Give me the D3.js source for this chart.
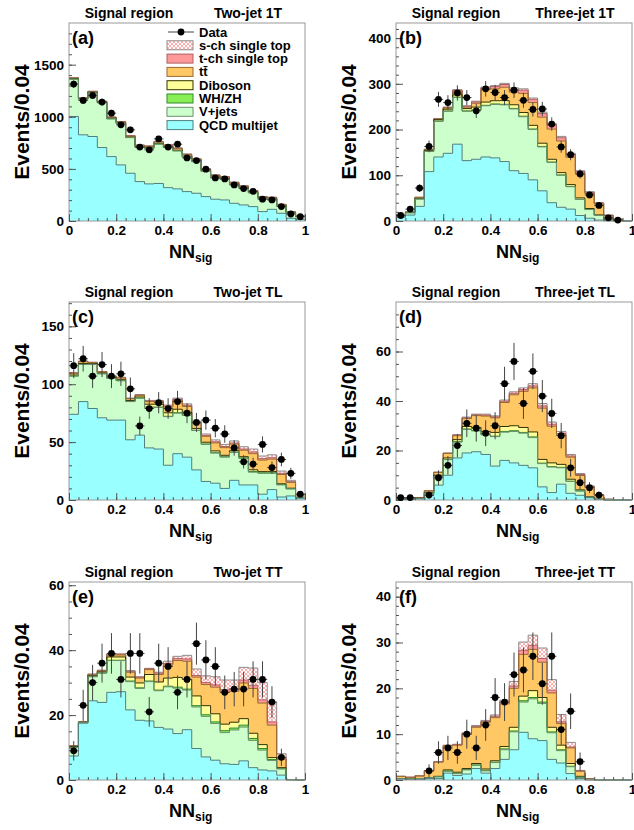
<!DOCTYPE html>
<html>
<head>
<meta charset="utf-8">
<script src="https://cdn.jsdelivr.net/npm/d3@7"></script>
<style>
  body { margin: 0; background: #fff; }
  svg text { font-family: "Liberation Sans", Arial, Helvetica, sans-serif; font-weight: bold; }
</style>
</head>
<body>
<svg id="chart" width="634" height="830"></svg>
<script>
// bin lower edges (bin width 0.04)
const binLow = [0,0.04,0.08,0.12,0.16,0.2,0.24,0.28,0.32,0.36,0.4,0.44,0.48,0.52,0.56,0.6,0.64,0.68,0.72,0.76,0.8,0.84,0.88,0.92,0.96]
const binW = 0.04

const xTicks = [0, 0.2, 0.4, 0.6, 0.8, 1]
const xTickLabels = ['0', '0.2', '0.4', '0.6', '0.8', '1']

// (a) Two-jet 1T
const qcd_a   = [1003,827,811,705,618,538,458,378,356,360,320,308,282,266,234,209,202,170,154,138,90,112,74,26,16]
const vjets_a = [358,341,419,429,362,397,342,327,341,378,385,365,333,303,241,208,199,180,161,132,126,98,70,52,26]
const whzh_a  = [1,1,1,1,1,1,1,1,1,1,1,1,1,1,1,1,1,1,1,1,1,1,1,1,1]
const dib_a   = [4,4,4,4,4,4,4,4,4,4,4,4,4,4,3,3,3,3,3,3,2,2,2,1,1]
const tt_a    = [5,5,6,7,8,10,10,12,12,14,14,15,15,15,14,14,14,12,12,12,10,10,8,6,3]
const tch_a   = [3,3,3,3,4,4,4,5,5,5,5,6,6,6,6,6,6,5,5,5,4,4,4,3,2]
const sch_a   = [1,1,1,1,1,1,1,2,2,2,2,2,2,2,2,2,2,2,2,2,1,1,1,1,1]
const data_a  = [1314,1157,1205,1141,1035,923,875,709,683,788,709,737,605,580,497,413,404,346,311,285,209,202,138,67,41]
const yTicks_a = [0, 500, 1000, 1500]

// (b) Three-jet 1T
const qcd_b   = [8,13,32,108,140,148,168,132,135,140,138,130,110,104,90,66,40,30,26,12,6,2,0.5,0,0]
const vjets_b = [3,5,16,44,78,92,102,108,107,112,117,124,135,124,110,96,88,70,49,35,19,10,2.5,0.8,0.2]
const whzh_b  = [0.1,0.1,0.2,0.4,0.5,0.6,0.8,0.8,1,1,1,1.2,1.2,1.2,1.2,1.1,1,0.8,0.6,0.5,0.3,0.2,0.1,0,0]
const dib_b   = [0.5,0.5,1,2,3,4,5,5,6,7,7,8,8,8,8,7,6,5,4,3,2,1,0.5,0.2,0]
const tt_b    = [1.1,1.1,2.3,1.8,1.3,2.7,8.2,3.2,8.5,27,26,29.3,27.8,41.8,49.8,56.9,66,69.2,59.9,52.5,32.5,24,8.3,2.6,0.7]
const tch_b   = [0.2,0.2,0.3,0.5,0.8,1.2,2,2,3,4,5,6,6,7,7,8,8,7,6,5,3,2,0.8,0.3,0.1]
const sch_b   = [0.1,0.1,0.2,0.3,0.4,0.5,1,1,1.5,2,2,2.5,3,3,3,3,3,3,2.5,2,1.2,0.8,0.3,0.1,0]
const data_b  = [12,26,72,163,266,259,280,270,241,289,281,270,286,264,244,245,212,162,145,103,57,34,7,2,0]
const yTicks_b = [0, 100, 200, 300, 400]

// (c) Two-jet TL
const qcd_c   = [74,85,79,71,69,69,52,56,45,44,30,40,37,26,16,14.5,10,17,13,13,5,9,2.6,3.5,1.5]
const vjets_c = [33,32,38,38,36,34,33,32,35,36,42,35,36,34,32,26,27,24,23,11,18,14,10.4,6,0.5]
const whzh_c  = [0.1,0.1,0.1,0.1,0.1,0.1,0.1,0.1,0.2,0.2,0.3,0.4,0.3,0.3,0.4,0.4,0.4,0.4,0.4,0.6,0.5,0.5,0.4,0.3,0.1]
const dib_c   = [0.8,0.8,0.6,0.6,0.6,0.8,0.8,0.8,2.5,2.5,3,3,2.5,1.5,1.5,1.5,1.2,1.2,1,1.5,1,1,0.6,0.4,0.2]
const tt_c    = [1.5,1.5,0.9,0.9,0.9,1.5,1.5,1.5,2.3,2.3,4.9,7.4,5,4.4,5.1,6.9,6.6,5.6,5.6,13.9,10,10.8,8,5,2.2]
const tch_c   = [0.3,0.3,0.2,0.2,0.2,0.3,0.3,0.3,0.5,0.5,0.8,1,1,0.8,0.8,1,1,1,1,1.5,1.2,1.2,1,0.6,0.2]
const sch_c   = [0.3,0.3,0.2,0.2,0.2,0.3,0.3,0.3,0.5,0.5,1,1.2,1.2,1,1.2,1.6,1.8,1.8,2,2.5,2.3,2.5,2,1.2,0.3]
const data_c  = [116,122,107,117,107,109,96,64,79,84,79,85,75,67,69,62,57,45,33,31,48,28,35,23,5]
const yTicks_c = [0, 50, 100, 150]

// (d) Three-jet TL
const qcd_d   = [0.3,0.3,0.4,1.8,6,10,17,19,19.5,18.4,13.7,16,15,14,13,5.3,3,6.4,2.7,1.9,0.9,0.3,0,0,0]
const vjets_d = [0.05,0.05,0.2,0.95,3.5,6.3,6.4,9.5,8.4,7.9,11.9,11.4,12.7,13,12.2,9.4,10.3,6.6,4.8,1.7,0.2,0,0,0,0]
const whzh_d  = [0,0,0,0.05,0.1,0.1,0.2,0.2,0.2,0.2,0.2,0.3,0.3,0.3,0.3,0.2,0.2,0.2,0.1,0.1,0,0,0,0,0]
const dib_d   = [0,0,0.1,0.2,0.4,0.6,0.8,1,1.2,1.2,1.5,2,2,2,2,1.5,1.5,1.2,0.8,0.4,0.2,0,0,0,0]
const tt_d    = [0.15,0.05,0.3,0.7,1.1,1.8,1.6,3.2,4.8,6.2,5.9,9.7,12.5,14.6,17.8,20.7,14.8,11.8,8.9,5.8,4,1.6,0.3,0,0]
const tch_d   = [0,0,0,0,0.1,0.1,0.2,0.3,0.3,0.4,0.4,0.5,0.6,0.7,0.8,0.9,0.8,0.7,0.5,0.4,0.2,0.1,0,0,0]
const sch_d   = [0,0,0,0,0.1,0.1,0.2,0.3,0.3,0.4,0.4,0.5,0.6,0.7,0.9,1,0.9,0.8,0.6,0.4,0.2,0.1,0,0,0]
const data_d  = [1,1,0,2,9,14,22,31,29,27,30,47,56,39,52,42,35,26,13,7,5,2,0,0,0]
const yTicks_d = [0, 20, 40, 60]

// (e) Two-jet TT
const qcd_e   = [7.4,17.5,24.4,23.9,27,27.2,21.6,18.4,18.2,16.2,15.7,14.3,15.5,9.7,7.1,6.1,5,4.8,5.9,3.8,3.1,2.8,1.5,0.1,0]
const vjets_e = [2.6,0.2,7.4,9,9.8,9.6,8.7,9.8,12.1,11.3,13,14,12.2,12.8,12.5,11.3,9.6,10.6,10.4,8.4,6.1,3.2,1.9,0,0]
const whzh_e  = [0.1,0,0.1,0.1,0.1,0.1,0.2,0.2,0.2,0.2,0.2,0.3,0.3,0.4,0.5,0.5,0.6,0.6,0.6,0.6,0.5,0.3,0.1,0,0]
const dib_e   = [0.2,0.1,0.2,0.3,1,1,1.2,1.5,2,2.5,2.5,3,3,3,2.8,2.5,2,1.8,2,1.6,1.2,0.6,0.3,0,0]
const tt_e    = [0.2,0.1,0.3,0.3,0.6,0.6,1.5,1.5,1.5,2.3,4,5.2,5.6,5.8,6.5,8.2,9.8,9.5,11,13.8,12.8,10,2.6,0,0]
const tch_e   = [0.1,0,0.2,0.2,0.3,0.3,0.3,0.3,0.3,0.4,0.5,0.6,0.7,0.5,0.6,0.7,0.8,0.8,0.9,1,1,1,0.5,0,0]
const sch_e   = [0,0,0,0,0,0,0.2,0.1,0.1,0.3,0.7,0.7,1.1,2,2.1,2.5,3,2.7,3.9,5.3,5.3,6.1,1.2,0,0]
const data_e  = [9,23,30,36,39,31,39,39,21,36,35,27,31,42,37,35,27,28,28,31,31,24,7,0,0]
const yTicks_e = [0, 20, 40, 60]

// (f) Three-jet TT
const qcd_f   = [0.2,0.1,0.1,0.3,0.3,1.5,1,1.3,2.5,1.5,2.5,4.5,6.6,10.4,9,8.6,4.5,3.7,1.4,0.3,0,0,0,0,0]
const vjets_f = [0.1,0.1,0.2,0.2,0.4,0.4,0.4,0.9,0.7,0.5,1.3,2.1,3.9,6.6,8.7,8.1,5.8,2.7,1.5,0.3,0.1,0,0,0,0]
const whzh_f  = [0,0,0,0,0,0.1,0.1,0.1,0.1,0.1,0.1,0.2,0.2,0.3,0.3,0.3,0.2,0.2,0.1,0,0,0,0,0,0]
const dib_f   = [0,0,0,0,0.1,0.2,0.2,0.2,0.3,0.3,0.3,0.5,0.8,1,1.5,1,1,1,0.6,0.2,0,0,0,0,0]
const tt_f    = [0.5,0.4,0.6,1.5,3.1,5.2,5.9,7.5,7.9,10.2,9.4,9.3,8.5,9.1,9,7.7,7.5,4.7,3.4,1.1,0.2,0,0,0,0]
const tch_f   = [0,0,0,0,0.1,0.1,0.1,0.2,0.2,0.2,0.3,0.4,0.5,0.9,0.9,0.8,0.6,0.4,0.2,0.1,0,0,0,0,0]
const sch_f   = [0,0,0,0,0,0.1,0.1,0.1,0.2,0.2,0.3,0.4,1,1.8,2.2,2.3,2.3,1.6,1,0.1,0,0,0,0,0]
const data_f  = [0,0,0,2,6,7,6,10,7,12,18,17,23,24,27,21,27,11,15,4,0,0,0,0,0]
const yTicks_f = [0, 10, 20, 30, 40]

// stack order bottom -> top
const fills = ['#99ffff', '#ccffcc', '#88ee55', '#ffff99', '#ffc864', '#ff9999', 'url(#hatch)']
const lines = ['#4f7f7f', '#6f8f6f', '#2f8a2f', '#333300', '#9a6a30', '#b06060', '#8c8c8c']

const panels = [
  {tag: '(a)', title: 'Two-jet 1T',   ymax: 1900, minor: 100, yTicks: yTicks_a, comps: [qcd_a, vjets_a, whzh_a, dib_a, tt_a, tch_a, sch_a], data: data_a, col: 0, row: 0},
  {tag: '(b)', title: 'Three-jet 1T', ymax: 433,  minor: 20,  yTicks: yTicks_b, comps: [qcd_b, vjets_b, whzh_b, dib_b, tt_b, tch_b, sch_b], data: data_b, col: 1, row: 0},
  {tag: '(c)', title: 'Two-jet TL',   ymax: 171,  minor: 10,  yTicks: yTicks_c, comps: [qcd_c, vjets_c, whzh_c, dib_c, tt_c, tch_c, sch_c], data: data_c, col: 0, row: 1},
  {tag: '(d)', title: 'Three-jet TL', ymax: 80,   minor: 5,   yTicks: yTicks_d, comps: [qcd_d, vjets_d, whzh_d, dib_d, tt_d, tch_d, sch_d], data: data_d, col: 1, row: 1},
  {tag: '(e)', title: 'Two-jet TT',   ymax: 61,   minor: 5,   yTicks: yTicks_e, comps: [qcd_e, vjets_e, whzh_e, dib_e, tt_e, tch_e, sch_e], data: data_e, col: 0, row: 2},
  {tag: '(f)', title: 'Three-jet TT', ymax: 43.2, minor: 2,   yTicks: yTicks_f, comps: [qcd_f, vjets_f, whzh_f, dib_f, tt_f, tch_f, sch_f], data: data_f, col: 1, row: 2}
]

const colX = [69, 396], rowY = [23, 302, 582]
const W = 236, H = 198

const svg = d3.select('#chart')

// hatch for s-channel
const pat = svg.append('defs').append('pattern')
  .attr('id', 'hatch').attr('patternUnits', 'userSpaceOnUse')
  .attr('width', 4).attr('height', 4)
pat.append('rect').attr('width', 4).attr('height', 4).attr('fill', '#fff')
pat.append('path').attr('d', 'M0,0L4,4M4,0L0,4')
  .attr('stroke', '#ff8a8a').attr('stroke-width', 0.7)

panels.forEach(p => {
  const x0 = colX[p.col], y0 = rowY[p.row]
  const x = d3.scaleLinear().domain([0, 1]).range([x0, x0 + W])
  const y = d3.scaleLinear().domain([0, p.ymax]).range([y0 + H, y0])
  const g = svg.append('g')

  // cumulative stack
  let base = binLow.map(() => 0)
  const stacked = p.comps.map(vals => {
    const lo = base
    const hi = base.map((b, i) => b + vals[i])
    base = hi
    const pts = binLow.map((b, i) => ({x: b, lo: lo[i], hi: hi[i]}))
    pts.push({x: 1, lo: lo[lo.length - 1], hi: hi[hi.length - 1]})
    return pts
  })

  const area = d3.area().curve(d3.curveStepAfter)
    .x(d => x(d.x)).y0(d => y(d.lo)).y1(d => y(d.hi))
  const step = d3.line().curve(d3.curveStepAfter)
    .x(d => x(d.x)).y(d => y(d.hi))

  g.selectAll('path.fill').data(stacked).join('path')
    .attr('class', 'fill')
    .attr('d', area)
    .attr('fill', (d, i) => fills[i])

  g.selectAll('path.edge').data(stacked.slice().reverse()).join('path')
    .attr('class', 'edge')
    .attr('d', step)
    .attr('fill', 'none')
    .attr('stroke', (d, i) => lines[lines.length - 1 - i])
    .attr('stroke-width', 1)

  // frame
  g.append('rect').attr('x', x0).attr('y', y0).attr('width', W).attr('height', H)
    .attr('fill', 'none').attr('stroke', '#999').attr('stroke-width', 1)

  // axes
  const yMinor = d3.range(0, p.ymax, p.minor)
  g.append('g').attr('transform', `translate(${x0},0)`)
    .call(d3.axisLeft(y).tickValues(yMinor).tickSize(-3).tickFormat(''))
    .call(a => a.select('.domain').remove())
    .call(a => a.selectAll('line').attr('stroke', '#555'))
  g.append('g').attr('transform', `translate(${x0},0)`)
    .call(d3.axisLeft(y).tickValues(p.yTicks).tickSize(-7).tickPadding(5).tickFormat(d => String(d)))
    .call(a => a.select('.domain').remove())
    .call(a => a.selectAll('line').attr('stroke', '#555'))
    .call(a => a.selectAll('text').attr('font-size', 13.5).attr('fill', '#000'))

  g.append('g').attr('transform', `translate(0,${y0 + H})`)
    .call(d3.axisBottom(x).tickValues(binLow.concat([1])).tickSize(-3).tickFormat(''))
    .call(a => a.select('.domain').remove())
    .call(a => a.selectAll('line').attr('stroke', '#555'))
  g.append('g').attr('transform', `translate(0,${y0 + H})`)
    .call(d3.axisBottom(x).tickValues(xTicks).tickSize(-7).tickPadding(4).tickFormat((d, i) => xTickLabels[i]))
    .call(a => a.select('.domain').remove())
    .call(a => a.selectAll('line').attr('stroke', '#555'))
    .call(a => a.selectAll('text').attr('font-size', 13.5).attr('fill', '#000'))

  // data with statistical errors
  const pts = binLow.map((b, i) => ({x: b, n: p.data[i]})).filter(d => d.n > 0)
  const dg = g.append('g')
  dg.selectAll('line.ev').data(pts).join('line')
    .attr('x1', d => x(d.x + binW / 2)).attr('x2', d => x(d.x + binW / 2))
    .attr('y1', d => y(Math.max(0, d.n - Math.sqrt(d.n)))).attr('y2', d => y(d.n + Math.sqrt(d.n)))
    .attr('stroke', '#444').attr('stroke-width', 1)
  dg.selectAll('line.eh').data(pts).join('line')
    .attr('x1', d => x(d.x)).attr('x2', d => x(d.x + binW))
    .attr('y1', d => y(d.n)).attr('y2', d => y(d.n))
    .attr('stroke', '#444').attr('stroke-width', 1)
  dg.selectAll('circle').data(pts).join('circle')
    .attr('cx', d => x(d.x + binW / 2)).attr('cy', d => y(d.n)).attr('r', 3.4)
    .attr('fill', '#000')

  // texts
  g.append('text').attr('x', x0 + 60).attr('y', y0 - 5).attr('text-anchor', 'middle')
    .attr('font-size', 14).text('Signal region')
  g.append('text').attr('x', x0 + 179).attr('y', y0 - 5).attr('text-anchor', 'middle')
    .attr('font-size', 14).text(p.title)
  g.append('text').attr('x', x0 + 3).attr('y', y0 + 21)
    .attr('font-size', 18).text(p.tag)

  g.append('text')
    .attr('transform', `translate(${x0 - 40},${y0 + H / 2}) rotate(-90)`)
    .attr('text-anchor', 'middle').attr('font-size', 21)
    .text('Events/0.04')

  const xl = g.append('text').attr('x', x0 + 100).attr('y', y0 + H + 37).attr('font-size', 18)
  xl.append('tspan').text('NN')
  xl.append('tspan').attr('font-size', 12).attr('dy', 4).text('sig')
})

// legend (panel a)
const lx = 167, ly = 32, lstep = 13.3
const leg = svg.append('g')
const entries = [
  {name: 'Data', data: true},
  {name: 's-ch single top', k: 6},
  {name: 't-ch single top', k: 5},
  {name: 'tt\u0304', k: 4},
  {name: 'Diboson', k: 3},
  {name: 'WH/ZH', k: 2},
  {name: 'V+jets', k: 1},
  {name: 'QCD multijet', k: 0}
]
entries.forEach((e, i) => {
  const cy = ly + i * lstep
  if (e.data) {
    leg.append('line').attr('x1', lx + 1).attr('x2', lx + 27).attr('y1', cy).attr('y2', cy)
      .attr('stroke', '#444')
    leg.append('circle').attr('cx', lx + 14).attr('cy', cy).attr('r', 3.4).attr('fill', '#000')
  } else {
    leg.append('rect').attr('x', lx).attr('y', cy - 4.5).attr('width', 26).attr('height', 9)
      .attr('fill', fills[e.k]).attr('stroke', lines[e.k]).attr('stroke-width', 1)
  }
  leg.append('text').attr('x', lx + 32).attr('y', cy).attr('dy', '0.35em')
    .attr('font-size', 13).text(e.name)
})
</script>
</body>
</html>
